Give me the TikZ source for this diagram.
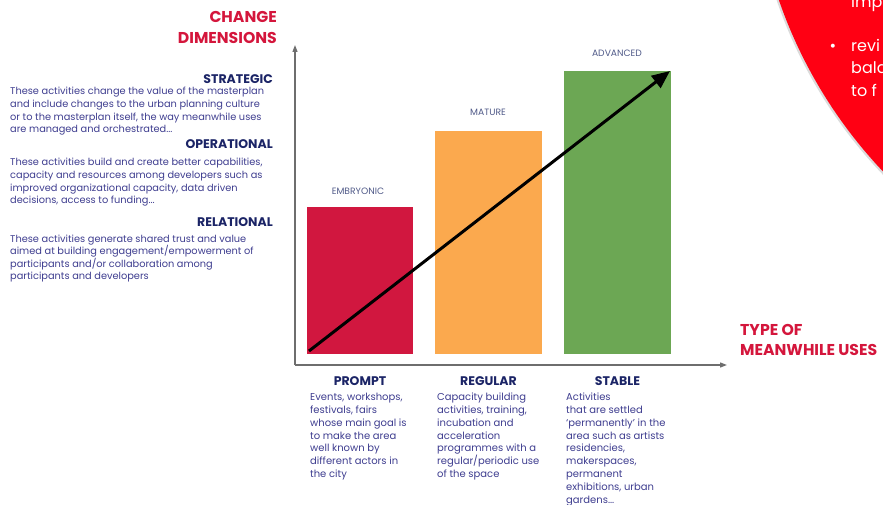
\documentclass[tikz,border=0pt]{standalone}
\usepackage{fontspec}
\setmainfont{Poppins}
\usetikzlibrary{arrows.meta}
\definecolor{titlered}{HTML}{D4163C}
\definecolor{navy}{HTML}{1B2466}
\definecolor{bodytext}{HTML}{3E3D8F}
\definecolor{labelc}{HTML}{505A88}
\definecolor{barred}{HTML}{D1173F}
\definecolor{barorange}{HTML}{FBA94E}
\definecolor{bargreen}{HTML}{6CA754}
\definecolor{axisgray}{HTML}{6E6E6E}
\definecolor{circlered}{HTML}{FF0013}
\begin{document}
\begin{tikzpicture}[x=1pt,y=-1pt,
  title/.style={font=\bfseries\fontsize{15.7}{20}\selectfont, text=titlered, inner sep=0},
  dimhead/.style={font=\bfseries\fontsize{12.5}{14}\selectfont, text=navy, inner sep=0},
  body/.style={font=\fontsize{9.8}{12.6}\selectfont, text=bodytext, inner sep=0, align=left, anchor=base west},
  bbody/.style={body, font=\fontsize{10}{12.8}\selectfont},
  barlabel/.style={font=\fontsize{9.2}{10}\selectfont, text=labelc, inner sep=0, anchor=base},
  bar/.style={inner sep=0, anchor=south west, draw=none},
  axis/.style={draw=axisgray, line width=1.2pt, -{Triangle[length=7pt,width=5pt]}},
  circtext/.style={font=\fontsize{16}{22}\selectfont, text=white, inner sep=0, anchor=base west}
]
\useasboundingbox (0,0) rectangle (883,505);
% red circle (cropped)
\begin{scope}
\clip (0,0) rectangle (883,505);
\fill[black!40, opacity=0.35] (1226.5,-154) circle[radius=475.5pt];
\fill[circlered] (1228,-155) circle[radius=475pt];
\node[circtext] (c0) at (851,8) {imp};
\node[circtext, anchor=base] (cb) at (833,52) {\textbullet};
\node[circtext] (c1) at (851,52) {revi};
\node[circtext] (c2) at (851,74) {bala};
\node[circtext] (c3) at (851,97) {to f};
\end{scope}

% left column
\node[title, anchor=base east] (t1) at (277,23) {CHANGE};
\node[title, anchor=base east] (t2) at (277,43.5) {DIMENSIONS};

\node[dimhead, anchor=base east] (h1) at (273,84) {STRATEGIC};
\node[body] (p1) at (10,132.8) {These activities change the value of the masterplan\\and include changes to the urban planning culture\\or to the masterplan itself, the way meanwhile uses\\are managed and orchestrated...};
\node[dimhead, anchor=base east] (h2) at (273,149) {OPERATIONAL};
\node[body] (p2) at (10,203.8) {These activities build and create better capabilities,\\capacity and resources among developers such as\\improved organizational capacity, data driven\\decisions, access to funding...};
\node[dimhead, anchor=base east] (h3) at (273,226) {RELATIONAL};
\node[body] (p3) at (10,279.8) {These activities generate shared trust and value\\aimed at building engagement/empowerment of\\participants and/or collaboration among\\participants and developers};

% axes
\coordinate (o) at (295,365);
\coordinate (ytop) at (295,45);
\coordinate (xend) at (727,365);
\draw[axis] (o) -- (ytop);
\draw[axis] (o) -- (xend);

\node[title, anchor=base west] (x1) at (740,335) {TYPE OF};
\node[title, anchor=base west] (x2) at (740,355) {MEANWHILE USES};

% bars
\node[bar, fill=barred, minimum width=106pt, minimum height=147pt] (b1) at (307,354) {};
\node[bar, fill=barorange, minimum width=107pt, minimum height=223pt] (b2) at (435,354) {};
\node[bar, fill=bargreen, minimum width=107pt, minimum height=283pt] (b3) at (564,354) {};

\node[barlabel] (l1) at (358,194) {EMBRYONIC};
\node[barlabel] (l2) at (488,116) {MATURE};
\node[barlabel] (l3) at (617,57) {ADVANCED};

% trend arrow
\coordinate (as) at (309,351);
\coordinate (ae) at (670,71);
\draw[line width=3pt, -{Triangle[length=18pt,width=15pt]}] (as) -- (ae);

% bottom categories
\node[dimhead, anchor=base] (k1) at (360,385) {PROMPT};
\node[dimhead, anchor=base] (k2) at (488.5,385) {REGULAR};
\node[dimhead, anchor=base] (k3) at (617.5,385) {STABLE};

\node[bbody] (d1) at (310,477.4) {Events, workshops,\\festivals, fairs\\whose main goal is\\to make the area\\well known by\\different actors in\\the city};
\node[bbody] (d2) at (437,477.4) {Capacity building\\activities, training,\\incubation and\\acceleration\\programmes with a\\regular/periodic use\\of the space};
\node[bbody] (d3) at (566,503) {Activities\\that are settled\\‘permanently’ in the\\area such as artists\\residencies,\\makerspaces,\\permanent\\exhibitions, urban\\gardens...};
\end{tikzpicture}
\end{document}
